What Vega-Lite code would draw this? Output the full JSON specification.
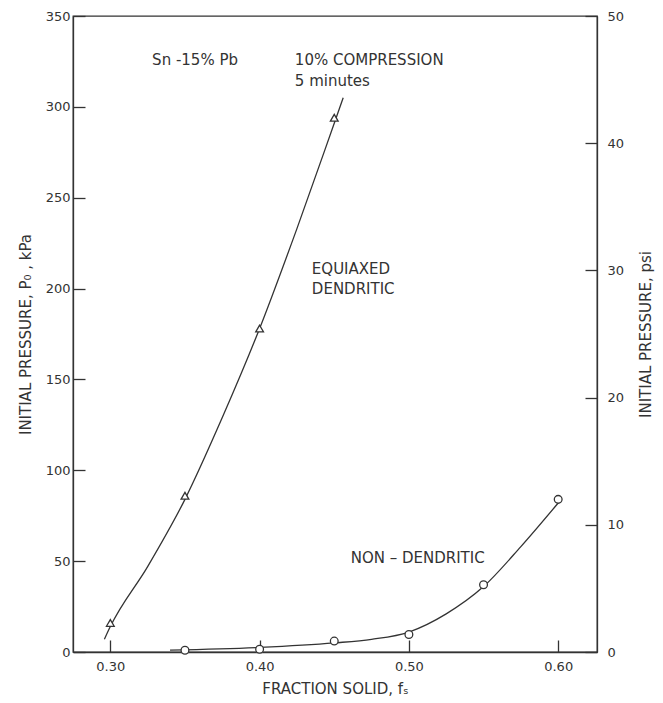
{
  "$schema": "https://vega.github.io/schema/vega-lite/v6.json",
  "width": 524,
  "height": 636,
  "autosize": {"type": "none"},
  "padding": {"left": 73, "top": 16, "right": 66, "bottom": 51},
  "background": "white",
  "config": {
    "view": {"stroke": "#333", "strokeWidth": 1.3},
    "font": "DejaVu Sans",
    "axis": {
      "grid": false,
      "domainColor": "#333",
      "domainWidth": 1.3,
      "tickColor": "#333",
      "tickWidth": 1.3,
      "labelColor": "#333",
      "titleColor": "#333",
      "labelFont": "DejaVu Sans",
      "titleFont": "DejaVu Sans",
      "labelFontSize": 13,
      "titleFontSize": 15,
      "titleFontWeight": "normal"
    }
  },
  "datasets": {
    "dend_pts": [
      {"fs": 0.30, "kpa": 16},
      {"fs": 0.35, "kpa": 86},
      {"fs": 0.40, "kpa": 178},
      {"fs": 0.45, "kpa": 294}
    ],
    "dend_curve": [
      {"fs": 0.296, "kpa": 7},
      {"fs": 0.30, "kpa": 14},
      {"fs": 0.325, "kpa": 47},
      {"fs": 0.35, "kpa": 84},
      {"fs": 0.375, "kpa": 129},
      {"fs": 0.40, "kpa": 178},
      {"fs": 0.425, "kpa": 233},
      {"fs": 0.45, "kpa": 291},
      {"fs": 0.456, "kpa": 305}
    ],
    "nond_pts": [
      {"fs": 0.35, "kpa": 1},
      {"fs": 0.40, "kpa": 1.5},
      {"fs": 0.45, "kpa": 6},
      {"fs": 0.50, "kpa": 9.6},
      {"fs": 0.55, "kpa": 37},
      {"fs": 0.60, "kpa": 84}
    ],
    "nond_curve": [
      {"fs": 0.34, "kpa": 1},
      {"fs": 0.40, "kpa": 2.5},
      {"fs": 0.45, "kpa": 5},
      {"fs": 0.475, "kpa": 7},
      {"fs": 0.50, "kpa": 11},
      {"fs": 0.525, "kpa": 21},
      {"fs": 0.55, "kpa": 36},
      {"fs": 0.575, "kpa": 58},
      {"fs": 0.60, "kpa": 82}
    ],
    "notes": [
      {"fs": 0.328, "kpa": 326, "label": "Sn -15% Pb"},
      {"fs": 0.4236, "kpa": 326, "label": "10% COMPRESSION"},
      {"fs": 0.4236, "kpa": 314, "label": "5 minutes"},
      {"fs": 0.435, "kpa": 211, "label": "EQUIAXED"},
      {"fs": 0.435, "kpa": 200, "label": "DENDRITIC"},
      {"fs": 0.461, "kpa": 52, "label": "NON – DENDRITIC"}
    ],
    "psi": [
      {"psi": 0},
      {"psi": 50}
    ]
  },
  "layer": [
    {
      "encoding": {
        "x": {
          "field": "fs",
          "type": "quantitative",
          "scale": {"domain": [0.275, 0.626], "nice": false, "zero": false},
          "axis": {
            "title": "FRACTION SOLID, fₛ",
            "values": [0.3, 0.4, 0.5, 0.6],
            "format": ".2f",
            "tickSize": -12,
            "labelPadding": 20,
            "titlePadding": 8
          }
        },
        "y": {
          "field": "kpa",
          "type": "quantitative",
          "scale": {"domain": [0, 350], "nice": false},
          "axis": {
            "title": "INITIAL PRESSURE, P₀ , kPa",
            "values": [0, 50, 100, 150, 200, 250, 300, 350],
            "tickSize": -12,
            "labelPadding": 15,
            "titlePadding": 12
          }
        }
      },
      "layer": [
        {
          "data": {"name": "dend_curve"},
          "mark": {"type": "line", "interpolate": "monotone", "color": "#333", "strokeWidth": 1.3}
        },
        {
          "data": {"name": "nond_curve"},
          "mark": {"type": "line", "interpolate": "monotone", "color": "#333", "strokeWidth": 1.3}
        },
        {
          "data": {"name": "dend_pts"},
          "mark": {"type": "point", "shape": "triangle-up", "filled": true, "fill": "white", "stroke": "#333", "strokeWidth": 1.3, "size": 60, "opacity": 1}
        },
        {
          "data": {"name": "nond_pts"},
          "mark": {"type": "point", "shape": "circle", "filled": true, "fill": "white", "stroke": "#333", "strokeWidth": 1.3, "size": 60, "opacity": 1}
        },
        {
          "data": {"name": "notes"},
          "mark": {"type": "text", "align": "left", "baseline": "middle", "fontSize": 15, "color": "#333", "font": "DejaVu Sans"},
          "encoding": {"text": {"field": "label"}}
        }
      ]
    },
    {
      "data": {"name": "psi"},
      "mark": {"type": "point", "opacity": 0},
      "encoding": {
        "y": {
          "field": "psi",
          "type": "quantitative",
          "scale": {"domain": [0, 50], "nice": false},
          "axis": {
            "orient": "right",
            "title": "INITIAL PRESSURE, psi",
            "titleAngle": -90,
            "values": [0, 10, 20, 30, 40, 50],
            "tickSize": -12,
            "labelPadding": 22,
            "titlePadding": 30
          }
        }
      }
    }
  ],
  "resolve": {"scale": {"y": "independent"}}
}
